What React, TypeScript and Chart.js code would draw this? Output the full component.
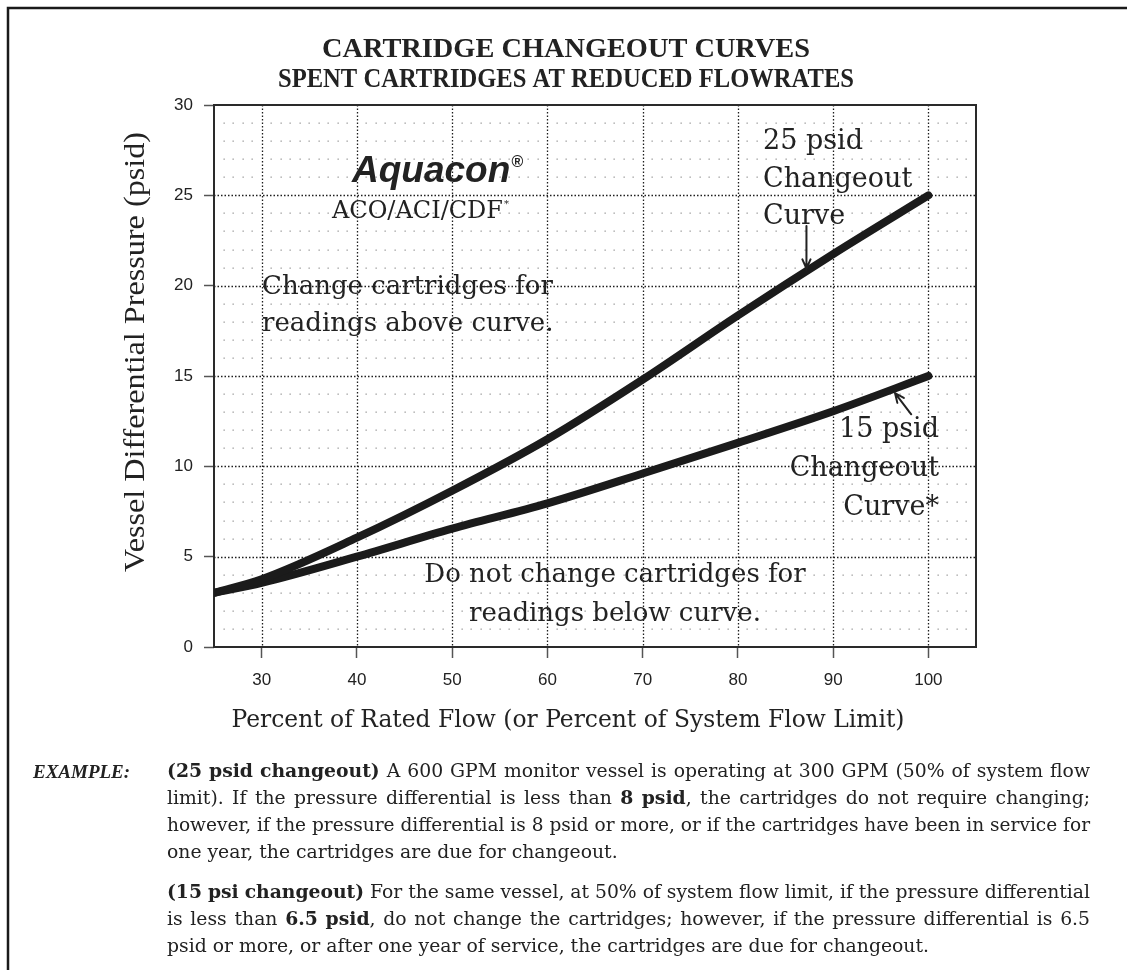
import React, { useEffect, useRef } from "react";
import { Chart, registerables } from "chart.js";

Chart.register(...registerables);

// ---- data ----
const flowPercent = [25, 30, 40, 50, 60, 70, 80, 90, 100];
const changeout25 = [3, 3.75, 6.05, 8.65, 11.5, 14.8, 18.35, 21.75, 25];
const changeout15 = [3, 3.55, 5.0, 6.55, 7.95, 9.6, 11.3, 13.05, 15];
const xTicks = [30, 40, 50, 60, 70, 80, 90, 100];
const yTicks = [0, 5, 10, 15, 20, 25, 30];

// ---- text ----
const titleLines = ["CARTRIDGE CHANGEOUT CURVES", "SPENT CARTRIDGES AT REDUCED FLOWRATES"];
const xTitle = "Percent of Rated Flow (or Percent of System Flow Limit)";
const yTitle = "Vessel Differential Pressure (psid)";
const label25 = ["25 psid", "Changeout", "Curve"];
const label15 = ["15 psid", "Changeout", "Curve*"];
const aboveText = ["Change cartridges for", "readings above curve."];
const belowText = ["Do not change cartridges for", "readings below curve."];
const exampleLabel = "EXAMPLE:";
const example1 = [
  "|(25 psid changeout)| A 600 GPM monitor vessel is operating at 300 GPM (50% of system flow",
  "limit). If the pressure differential is less than |8 psid|, the cartridges do not require changing;",
  "however, if the pressure differential is 8 psid or more, or if the cartridges have been in service for",
  "one year, the cartridges are due for changeout.",
];
const example2 = [
  "|(15 psi changeout)| For the same vessel, at 50% of system flow limit, if the pressure differential",
  "is less than |6.5 psid|, do not change the cartridges; however, if the pressure differential is 6.5",
  "psid or more, or after one year of service, the cartridges are due for changeout.",
];

const SERIF = '"DejaVu Serif", serif';
const TIMES = '"Liberation Serif", "Times New Roman", serif';
const SANS = '"Liberation Sans", Arial, sans-serif';
const INK = "#222";

function txt(ctx: CanvasRenderingContext2D, s: string, x: number, y: number, font: string, align = "left", width?: number) {
  ctx.save();
  ctx.font = font;
  ctx.textAlign = "left";
  ctx.textBaseline = "alphabetic";
  const w = ctx.measureText(s).width;
  const sx = width ? width / w : 1;
  const dw = w * sx;
  const x0 = align === "center" ? x - dw / 2 : align === "right" ? x - dw : x;
  ctx.translate(x0, y);
  ctx.scale(sx, 1);
  ctx.fillText(s, 0, 0);
  ctx.restore();
  return dw;
}

function drawParagraphLine(ctx: CanvasRenderingContext2D, line: string, x: number, y: number, width: number, justify: boolean, size: number) {
  const words: { t: string; b: boolean }[][] = [];
  let bold = false;
  let cur: { t: string; b: boolean }[] = [];
  let buf = "";
  const flush = () => {
    if (buf) {
      cur.push({ t: buf, b: bold });
      buf = "";
    }
  };
  for (const ch of line) {
    if (ch === "|") {
      flush();
      bold = !bold;
    } else if (ch === " ") {
      flush();
      if (cur.length) words.push(cur);
      cur = [];
    } else buf += ch;
  }
  flush();
  if (cur.length) words.push(cur);
  const fontOf = (b: boolean) => `${b ? "bold " : ""}${size}px ${SERIF}`;
  const pw = (p: { t: string; b: boolean }) => {
    ctx.font = fontOf(p.b);
    return ctx.measureText(p.t).width;
  };
  ctx.font = fontOf(false);
  const sp = ctx.measureText(" ").width;
  const ws = words.map((w) => w.reduce((s, p) => s + pw(p), 0));
  const sum = ws.reduce((a, b) => a + b, 0);
  const natural = sum + sp * (words.length - 1);
  let sx = 1;
  let gap = sp;
  if (natural > width) sx = width / natural;
  else if (justify && words.length > 1) gap = (width - sum) / (words.length - 1);
  ctx.save();
  ctx.translate(x, y);
  ctx.scale(sx, 1);
  ctx.textAlign = "left";
  ctx.textBaseline = "alphabetic";
  let cx = 0;
  words.forEach((w) => {
    w.forEach((p) => {
      ctx.font = fontOf(p.b);
      ctx.fillText(p.t, cx, 0);
      cx += ctx.measureText(p.t).width;
    });
    cx += gap;
  });
  ctx.restore();
}

function arrow(ctx: CanvasRenderingContext2D, x1: number, y1: number, x2: number, y2: number) {
  const ang = Math.atan2(y2 - y1, x2 - x1);
  const L = 10;
  const spread = 0.42;
  ctx.save();
  ctx.strokeStyle = INK;
  ctx.lineWidth = 2;
  ctx.lineCap = "round";
  ctx.beginPath();
  ctx.moveTo(x1, y1);
  ctx.lineTo(x2, y2);
  ctx.moveTo(x2 - L * Math.cos(ang - spread), y2 - L * Math.sin(ang - spread));
  ctx.lineTo(x2, y2);
  ctx.lineTo(x2 - L * Math.cos(ang + spread), y2 - L * Math.sin(ang + spread));
  ctx.stroke();
  ctx.restore();
}

const gridPlugin = {
  id: "customGrid",
  beforeDatasetsDraw(chart: any) {
    const { ctx, chartArea: a, scales } = chart;
    const xs = scales.x;
    const ys = scales.y;
    ctx.save();
    // minor dot grid
    ctx.fillStyle = "#9a9a9a";
    for (let xv = 26; xv < 105; xv++) {
      if (xv % 10 === 0) continue;
      for (let yv = 1; yv < 30; yv++) {
        if (yv % 5 === 0) continue;
        const px = xs.getPixelForValue(xv);
        const py = ys.getPixelForValue(yv);
        ctx.fillRect(Math.round(px) - 0.5, Math.round(py) - 0.5, 1.3, 1.3);
      }
    }
    // major dotted grid
    ctx.strokeStyle = "#1e1e1e";
    ctx.lineWidth = 1.3;
    ctx.setLineDash([1.5, 2]);
    xTicks.forEach((v) => {
      const px = Math.round(xs.getPixelForValue(v)) + 0.5;
      ctx.beginPath();
      ctx.moveTo(px, a.top);
      ctx.lineTo(px, a.bottom);
      ctx.stroke();
    });
    yTicks.forEach((v) => {
      if (v === 0 || v === 30) return;
      const py = Math.round(ys.getPixelForValue(v)) + 0.5;
      ctx.beginPath();
      ctx.moveTo(a.left, py);
      ctx.lineTo(a.right, py);
      ctx.stroke();
    });
    ctx.setLineDash([]);
    // plot frame
    ctx.strokeStyle = "#2a2a2a";
    ctx.lineWidth = 2;
    ctx.strokeRect(a.left, a.top, a.right - a.left, a.bottom - a.top);
    ctx.restore();
  },
};

const annotationPlugin = {
  id: "annotations",
  afterDraw(chart: any) {
    const { ctx, scales } = chart;
    const xs = scales.x;
    const ys = scales.y;
    const X = (v: number) => xs.getPixelForValue(v);
    const Y = (v: number) => ys.getPixelForValue(v);
    ctx.save();
    ctx.fillStyle = INK;

    // outer frame
    ctx.strokeStyle = "#1a1a1a";
    ctx.lineWidth = 2.5;
    ctx.beginPath();
    ctx.moveTo(8, 972);
    ctx.lineTo(8, 8);
    ctx.lineTo(1130, 8);
    ctx.stroke();

    // title
    txt(ctx, titleLines[0], 566, 57, `bold 28px ${TIMES}`, "center", 488);
    txt(ctx, titleLines[1], 566, 87, `bold 28px ${TIMES}`, "center", 576);

    // axis titles
    txt(ctx, xTitle, 568, 727, `24px ${SERIF}`, "center", 673);
    ctx.save();
    ctx.translate(144, 352);
    ctx.rotate(-Math.PI / 2);
    txt(ctx, yTitle, 0, 0, `30px ${TIMES}`, "center", 440);
    ctx.restore();

    // brand
    const aw = txt(ctx, "Aquacon", 352, 182, `italic bold 37px ${SANS}`);
    txt(ctx, "®", 352 + aw + 1, 167, `italic bold 16px ${SANS}`);
    const cw = txt(ctx, "ACO/ACI/CDF", 332, 218, `24px ${SERIF}`);
    txt(ctx, "*", 332 + cw + 1, 207, `10px ${SERIF}`);

    // region labels
    txt(ctx, aboveText[0], 262, 294, `26px ${SERIF}`);
    txt(ctx, aboveText[1], 262, 331, `26px ${SERIF}`);
    txt(ctx, belowText[0], 615, 582, `26px ${SERIF}`, "center");
    txt(ctx, belowText[1], 615, 621, `26px ${SERIF}`, "center");

    // curve labels
    label25.forEach((s, i) => txt(ctx, s, 763, 149 + i * 37.5, `27px ${SERIF}`));
    label15.forEach((s, i) => txt(ctx, s, 939, 437 + i * 39, `27px ${SERIF}`, "right"));

    // arrows
    arrow(ctx, X(87.2), Y(23.3), X(87.2), Y(20.95));
    arrow(ctx, X(98.2), Y(12.88), X(96.5), Y(14.05));

    // example text
    txt(ctx, exampleLabel, 33, 778, `italic bold 19px ${TIMES}`);
    const left = 167;
    const width = 1090 - left;
    example1.forEach((l, i) => drawParagraphLine(ctx, l, left, 777 + i * 27, width, i < example1.length - 1, 18.8));
    example2.forEach((l, i) => drawParagraphLine(ctx, l, left, 898 + i * 27, width, i < example2.length - 1, 18.8));
    ctx.restore();
  },
};

export default function App() {
  const ref = useRef<HTMLCanvasElement | null>(null);
  useEffect(() => {
    if (!ref.current) return;
    const lineStyle = {
      borderColor: "#1b1b1b",
      borderWidth: 8,
      pointRadius: 0,
      cubicInterpolationMode: "monotone" as const,
      borderCapStyle: "round" as const,
      borderJoinStyle: "round" as const,
      fill: false,
    };
    const tickFont = { family: "Liberation Sans", size: 17 };
    const chart = new Chart(ref.current, {
      type: "line",
      data: {
        datasets: [
          { label: "25 psid Changeout Curve", data: flowPercent.map((f, i) => ({ x: f, y: changeout25[i] })), ...lineStyle },
          { label: "15 psid Changeout Curve", data: flowPercent.map((f, i) => ({ x: f, y: changeout15[i] })), ...lineStyle },
        ],
      },
      options: {
        responsive: false,
        animation: false,
        devicePixelRatio: 1,
        layout: { padding: { left: 0, top: 105, right: 151, bottom: 0 } },
        plugins: { legend: { display: false }, tooltip: { enabled: false }, title: { display: false } },
        scales: {
          x: {
            type: "linear",
            min: 25,
            max: 105,
            afterBuildTicks: (s: any) => {
              s.ticks = xTicks.map((v) => ({ value: v }));
            },
            afterFit: (s: any) => {
              s.height = 323;
            },
            grid: { drawOnChartArea: false, drawTicks: true, tickLength: 11, tickColor: "#555", tickWidth: 1.5 },
            border: { display: false },
            ticks: { color: INK, font: tickFont, padding: 12, maxRotation: 0, autoSkip: false },
          },
          y: {
            type: "linear",
            min: 0,
            max: 30,
            afterBuildTicks: (s: any) => {
              s.ticks = yTicks.map((v) => ({ value: v }));
            },
            afterFit: (s: any) => {
              s.width = 214;
            },
            grid: { drawOnChartArea: false, drawTicks: true, tickLength: 10, tickColor: "#555", tickWidth: 1.5 },
            border: { display: false },
            ticks: { color: INK, font: tickFont, padding: 11, autoSkip: false },
          },
        },
      } as any,
      plugins: [gridPlugin, annotationPlugin],
    });
    return () => chart.destroy();
  }, []);
  return (
    <canvas
      ref={ref}
      width={1127}
      height={970}
      style={{ position: "absolute", left: 0, top: 0, width: 1127, height: 970, display: "block" }}
    />
  );
}
